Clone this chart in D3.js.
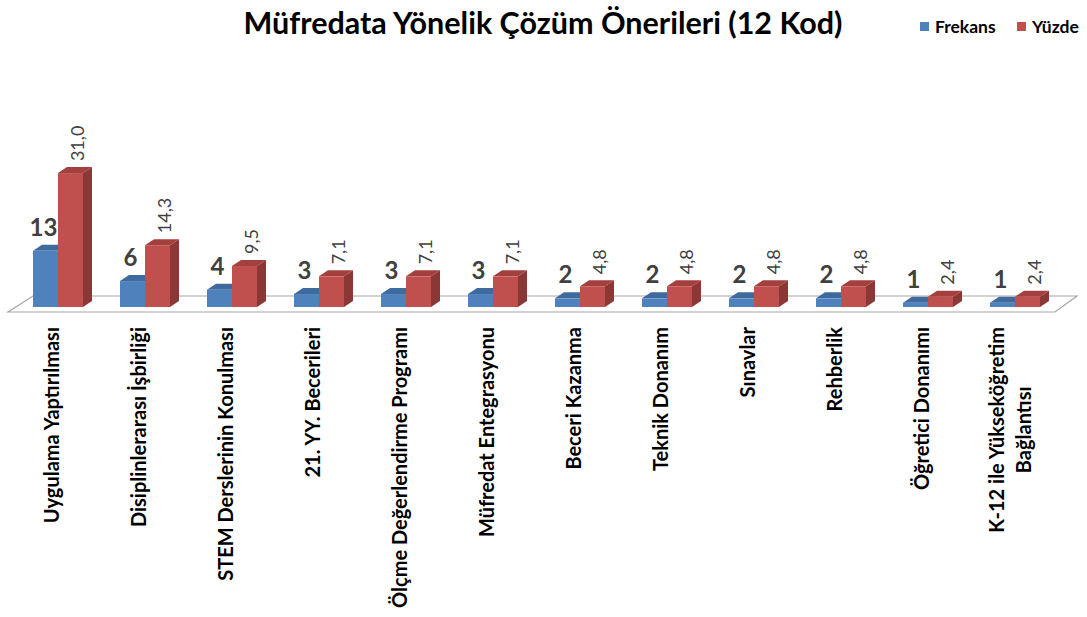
<!DOCTYPE html>
<html>
<head>
<meta charset="utf-8">
<script src="https://cdn.jsdelivr.net/npm/d3@7"></script>
<style>
  body { margin: 0; background: #fff; }
  svg { display: block; }
</style>
</head>
<body>
<div id="chart"></div>
<script>
// Data
const categories = [
  "Uygulama Yaptırılması",
  "Disiplinlerarası İşbirliği",
  "STEM Derslerinin Konulması",
  "21. YY. Becerileri",
  "Ölçme Değerlendirme Programı",
  "Müfredat Entegrasyonu",
  "Beceri Kazanma",
  "Teknik Donanım",
  "Sınavlar",
  "Rehberlik",
  "Öğretici Donanımı",
  "K-12 ile Yükseköğretim|Bağlantısı"
];
const frekans = [13, 6, 4, 3, 3, 3, 2, 2, 2, 2, 1, 1];
const yuzde = [31.0, 14.3, 9.5, 7.1, 7.1, 7.1, 4.8, 4.8, 4.8, 4.8, 2.4, 2.4];
const seriesNames = ["Frekans", "Yüzde"];

const width = 1087, height = 617;
const depth = { dx: 9, dy: -6 }; // 3d offset of bars
const colors = {
    Frekans: { front: "#4F81BD", top: "#3F6A9E", side: "#385D8A" },
    Yüzde: { front: "#C0504D", top: "#A33F3C", side: "#8A3735" }
};

const svg = d3.select("#chart").append("svg")
    .attr("width", width)
    .attr("height", height)
    .style("font-family", "Lato, 'Open Sans', sans-serif");

// title
svg.append("text")
    .attr("x", 543)
    .attr("y", 34)
    .attr("text-anchor", "middle")
    .attr("font-size", 30.5)
    .attr("font-weight", "bold")
    .attr("fill", "#000")
    .text("Müfredata Yönelik Çözüm Önerileri (12 Kod)");

// legend
const legend = svg.append("g").attr("class", "legend");
const legendX = [920, 1017];
seriesNames.forEach((name, i) => {
    const g = legend.append("g").attr("transform", `translate(${legendX[i]},22)`);
    g.append("rect").attr("width", 9).attr("height", 9).attr("fill", colors[name].front);
    g.append("text")
        .attr("x", 15).attr("y", 11)
        .attr("font-size", 17.5).attr("font-weight", "bold")
        .attr("fill", "#000")
        .text(name);
});

// scales
const x = d3.scaleBand()
    .domain(categories)
    .range([33, 33 + 87 * 12 - 37])
    .paddingInner(37 / 87)
    .paddingOuter(0);
const xs = d3.scaleBand().domain(seriesNames).range([0, x.bandwidth()]);
const y = d3.scaleLinear().domain([0, 35]).range([307, 307 - 35 * 4.32]);

// floor
svg.append("polygon")
    .attr("points", [[8, 312], [1055, 312], [1077, 296], [33, 296]].map(p => p.join(",")).join(" "))
    .attr("fill", "#fff")
    .attr("stroke", "#a6a6a6")
    .attr("stroke-width", 1.2);

const rows = categories.map((c, i) => ({ cat: c, Frekans: frekans[i], Yüzde: yuzde[i] }));

const groups = svg.append("g").selectAll("g.cat")
    .data(rows)
    .join("g")
    .attr("class", "cat")
    .attr("transform", d => `translate(${x(d.cat)},0)`);

seriesNames.forEach(name => {
    const bx = xs(name), bw = xs.bandwidth();
    // right side face
    groups.append("polygon")
        .attr("points", d => {
            const t = y(d[name]), b = y(0);
            return [[bx + bw, b], [bx + bw + depth.dx, b + depth.dy],
                    [bx + bw + depth.dx, t + depth.dy], [bx + bw, t]].map(p => p.join(",")).join(" ");
        })
        .attr("fill", colors[name].side);
    // top face
    groups.append("polygon")
        .attr("points", d => {
            const t = y(d[name]);
            return [[bx, t], [bx + bw, t], [bx + bw + depth.dx, t + depth.dy],
                    [bx + depth.dx, t + depth.dy]].map(p => p.join(",")).join(" ");
        })
        .attr("fill", colors[name].top);
    // front face
    groups.append("rect")
        .attr("x", bx)
        .attr("y", d => y(d[name]))
        .attr("width", bw)
        .attr("height", d => y(0) - y(d[name]))
        .attr("fill", colors[name].front);
});

// value labels: frequency, bold horizontal
groups.append("text")
    .attr("x", xs("Frekans") + xs.bandwidth() / 2 - 2)
    .attr("y", d => y(d.Frekans) + depth.dy - 9)
    .attr("text-anchor", "middle")
    .attr("font-size", 24)
    .attr("font-weight", "bold")
    .attr("fill", "#404040")
    .text(d => d.Frekans);

// value labels: percent, rotated
groups.append("text")
    .attr("transform", d => `translate(${xs("Yüzde") + xs.bandwidth() / 2 + 13},${y(d.Yüzde) + depth.dy - 6}) rotate(-90)`)
    .attr("font-size", 18)
    .attr("fill", "#404040")
    .text(d => d3.format(".1f")(d.Yüzde).replace(".", ","));

// category labels, rotated; extra lines centred on the first one
groups.each(function(d) {
    const lines = d.cat.split("|");
    const g = d3.select(this);
    const cx = x.bandwidth() / 2 - 6;
    const first = g.append("text")
        .attr("transform", `translate(${cx},327) rotate(-90)`)
        .attr("text-anchor", "end")
        .attr("dy", "0.35em")
        .attr("font-size", 20)
        .attr("font-weight", "bold")
        .attr("fill", "#000")
        .text(lines[0]);
    if (lines.length > 1) {
        const len = first.node().getComputedTextLength();
        first.attr("transform", `translate(${cx - 12},327) rotate(-90)`);
        lines.slice(1).forEach((line, j) => {
            g.append("text")
                .attr("transform", `translate(${cx - 12 + 27 * (j + 1)},${327 + len / 2}) rotate(-90)`)
                .attr("text-anchor", "middle")
                .attr("dy", "0.35em")
                .attr("font-size", 20)
                .attr("font-weight", "bold")
                .attr("fill", "#000")
                .text(line);
        });
    }
});
</script>
</body>
</html>
